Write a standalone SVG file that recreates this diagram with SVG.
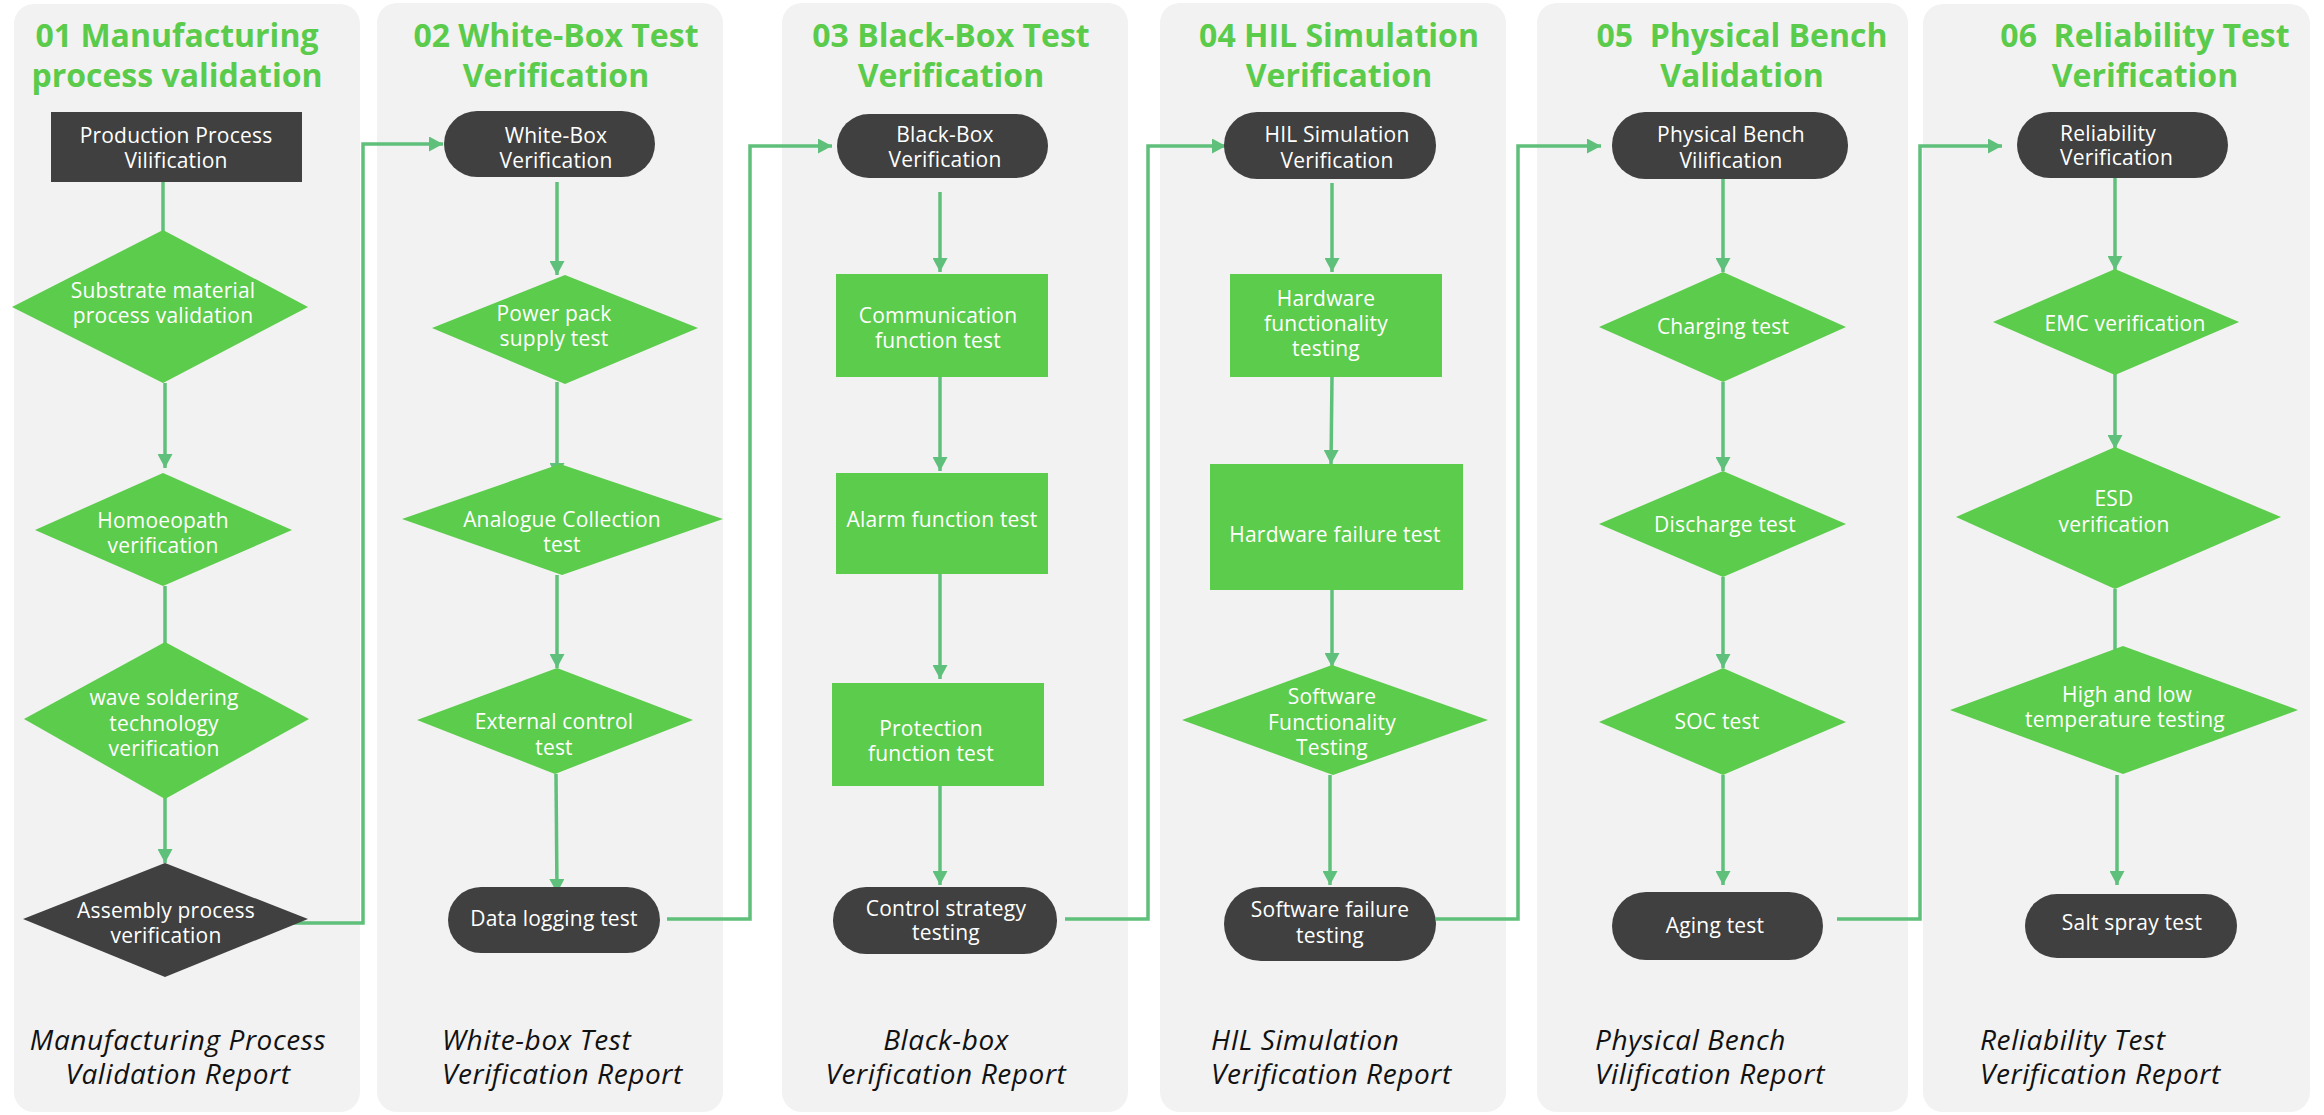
<svg xmlns="http://www.w3.org/2000/svg" width="2324" height="1115" viewBox="0 0 2324 1115">
<defs>
<style>
.panel{fill:#f2f2f2}
.title{font-family:"Open Sans","Noto Sans",sans-serif;font-weight:bold;font-size:32px;fill:#5bcb4b;text-anchor:middle}
.dark{fill:#404040}
.green{fill:#5bcc4b}
.nt{font-family:"Open Sans","Noto Sans",sans-serif;font-size:21px;letter-spacing:0.2px;fill:#ffffff;text-anchor:middle}
.ns{font-family:"Open Sans","Noto Sans",sans-serif;font-size:21px;letter-spacing:0.2px;fill:#ffffff;text-anchor:start}
.foot{font-family:"Open Sans","Noto Sans",sans-serif;font-style:italic;font-size:28px;letter-spacing:0.6px;fill:#111111}
.fm{text-anchor:middle}
.conn{fill:none;stroke:#5fc07b;stroke-width:3.5}
</style>
<marker id="arr" viewBox="0 0 14 15" refX="14" refY="7.5" markerWidth="14" markerHeight="15" markerUnits="userSpaceOnUse" orient="auto">
<path d="M0,0 L14,7.5 L0,15 z" fill="#5fc07b"/>
</marker>
</defs>

<g id="panels">
<rect class="panel" x="14" y="4" width="346" height="1108" rx="20"/>
<rect class="panel" x="377" y="3" width="346" height="1109" rx="20"/>
<rect class="panel" x="782" y="3" width="346" height="1109" rx="20"/>
<rect class="panel" x="1160" y="3" width="346" height="1109" rx="20"/>
<rect class="panel" x="1537" y="3" width="371" height="1109" rx="20"/>
<rect class="panel" x="1923" y="4" width="387" height="1108" rx="20"/>
</g>

<g id="titles">
<text class="title" x="177" y="47">01 Manufacturing</text>
<text class="title" x="177" y="87">process validation</text>
<text class="title" x="556" y="47">02 White-Box Test</text>
<text class="title" x="556" y="87">Verification</text>
<text class="title" x="951" y="47">03 Black-Box Test</text>
<text class="title" x="951" y="87">Verification</text>
<text class="title" x="1339" y="47">04 HIL Simulation</text>
<text class="title" x="1339" y="87">Verification</text>
<text class="title" x="1742" y="47" xml:space="preserve">05  Physical Bench</text>
<text class="title" x="1742" y="87">Validation</text>
<text class="title" x="2145" y="47" xml:space="preserve">06  Reliability Test</text>
<text class="title" x="2145" y="87">Verification</text>
</g>

<g id="connectors">
<line class="conn" x1="163" y1="182" x2="163" y2="277" marker-end="url(#arr)"/>
<line class="conn" x1="165" y1="383" x2="165" y2="468" marker-end="url(#arr)"/>
<line class="conn" x1="165" y1="586" x2="165" y2="664" marker-end="url(#arr)"/>
<line class="conn" x1="165" y1="774" x2="165" y2="863" marker-end="url(#arr)"/>
<polyline class="conn" points="283,923 363,923 363,144 443,144" marker-end="url(#arr)"/>

<line class="conn" x1="557" y1="182" x2="557" y2="275" marker-end="url(#arr)"/>
<line class="conn" x1="557" y1="382" x2="557" y2="477" marker-end="url(#arr)"/>
<line class="conn" x1="557" y1="575" x2="557" y2="668" marker-end="url(#arr)"/>
<line class="conn" x1="556" y1="774" x2="557" y2="893" marker-end="url(#arr)"/>
<polyline class="conn" points="667,919 750,919 750,146 832,146" marker-end="url(#arr)"/>

<line class="conn" x1="940" y1="192" x2="940" y2="272" marker-end="url(#arr)"/>
<line class="conn" x1="940" y1="377" x2="940" y2="471" marker-end="url(#arr)"/>
<line class="conn" x1="940" y1="569" x2="940" y2="679" marker-end="url(#arr)"/>
<line class="conn" x1="940" y1="775" x2="940" y2="885" marker-end="url(#arr)"/>
<polyline class="conn" points="1065,919 1148,919 1148,146 1226,146" marker-end="url(#arr)"/>

<line class="conn" x1="1332" y1="183" x2="1332" y2="272" marker-end="url(#arr)"/>
<line class="conn" x1="1332" y1="377" x2="1331" y2="464" marker-end="url(#arr)"/>
<line class="conn" x1="1332" y1="590" x2="1332" y2="667" marker-end="url(#arr)"/>
<line class="conn" x1="1330" y1="775" x2="1330" y2="885" marker-end="url(#arr)"/>
<polyline class="conn" points="1436,919 1518,919 1518,146 1601,146" marker-end="url(#arr)"/>

<line class="conn" x1="1723" y1="179" x2="1723" y2="272" marker-end="url(#arr)"/>
<line class="conn" x1="1723" y1="382" x2="1723" y2="471" marker-end="url(#arr)"/>
<line class="conn" x1="1723" y1="577" x2="1723" y2="668" marker-end="url(#arr)"/>
<line class="conn" x1="1723" y1="775" x2="1723" y2="885" marker-end="url(#arr)"/>
<polyline class="conn" points="1837,919 1920,919 1920,146 2002,146" marker-end="url(#arr)"/>

<line class="conn" x1="2115" y1="178" x2="2115" y2="270" marker-end="url(#arr)"/>
<line class="conn" x1="2115" y1="363" x2="2115" y2="449" marker-end="url(#arr)"/>
<line class="conn" x1="2115" y1="589" x2="2115" y2="674" marker-end="url(#arr)"/>
<line class="conn" x1="2117" y1="775" x2="2117" y2="885" marker-end="url(#arr)"/>
</g>

<!-- Panel 1 -->
<g id="n1-production">
<rect class="dark" x="51" y="112" width="251" height="70"/>
<text class="nt" x="176" y="143">Production Process</text>
<text class="nt" x="176" y="168">Vilification</text>
</g>
<g id="n1-substrate">
<polygon class="green" points="163,230 308,307 163,383 12,307"/>
<text class="nt" x="163" y="298">Substrate material</text>
<text class="nt" x="163" y="323">process validation</text>
</g>
<g id="n1-homoeopath">
<polygon class="green" points="163,473 292,530 163,586 35,530"/>
<text class="nt" x="163" y="528">Homoeopath</text>
<text class="nt" x="163" y="553">verification</text>
</g>
<g id="n1-wave">
<polygon class="green" points="165,642 309,719 165,799 24,719"/>
<text class="nt" x="164" y="705">wave soldering</text>
<text class="nt" x="164" y="731">technology</text>
<text class="nt" x="164" y="756">verification</text>
</g>
<g id="n1-assembly">
<polygon class="dark" points="165,863 308,919 165,977 23,919"/>
<text class="nt" x="166" y="918">Assembly process</text>
<text class="nt" x="166" y="943">verification</text>
</g>

<!-- Panel 2 -->
<g id="n2-whitebox">
<rect class="dark" x="444" y="111" width="211" height="66" rx="33"/>
<text class="nt" x="556" y="143">White-Box</text>
<text class="nt" x="556" y="168">Verification</text>
</g>
<g id="n2-power">
<polygon class="green" points="565,275 698,328 565,384 432,328"/>
<text class="nt" x="554" y="321">Power pack</text>
<text class="nt" x="554" y="346">supply test</text>
</g>
<g id="n2-analogue">
<polygon class="green" points="560,464 723,519 562,575 402,519"/>
<text class="nt" x="562" y="527">Analogue Collection</text>
<text class="nt" x="562" y="552">test</text>
</g>
<g id="n2-external">
<polygon class="green" points="557,668 693,720 555,774 417,720"/>
<text class="nt" x="554" y="729">External control</text>
<text class="nt" x="554" y="755">test</text>
</g>
<g id="n2-datalog">
<rect class="dark" x="448" y="887" width="212" height="66" rx="33"/>
<text class="nt" x="554" y="926">Data logging test</text>
</g>

<!-- Panel 3 -->
<g id="n3-blackbox">
<rect class="dark" x="837" y="114" width="211" height="64" rx="32"/>
<text class="nt" x="945" y="142">Black-Box</text>
<text class="nt" x="945" y="167">Verification</text>
</g>
<g id="n3-comm">
<rect class="green" x="836" y="274" width="212" height="103"/>
<text class="nt" x="938" y="323">Communication</text>
<text class="nt" x="938" y="348">function test</text>
</g>
<g id="n3-alarm">
<rect class="green" x="836" y="473" width="212" height="101"/>
<text class="nt" x="942" y="527">Alarm function test</text>
</g>
<g id="n3-protection">
<rect class="green" x="832" y="683" width="212" height="103"/>
<text class="nt" x="931" y="736">Protection</text>
<text class="nt" x="931" y="761">function test</text>
</g>
<g id="n3-control">
<rect class="dark" x="833" y="887" width="224" height="67" rx="33"/>
<text class="nt" x="946" y="916">Control strategy</text>
<text class="nt" x="946" y="940">testing</text>
</g>

<!-- Panel 4 -->
<g id="n4-hil">
<rect class="dark" x="1224" y="112" width="212" height="67" rx="33"/>
<text class="nt" x="1337" y="142">HIL Simulation</text>
<text class="nt" x="1337" y="168">Verification</text>
</g>
<g id="n4-hwfunc">
<rect class="green" x="1230" y="274" width="212" height="103"/>
<text class="nt" x="1326" y="306">Hardware</text>
<text class="nt" x="1326" y="331">functionality</text>
<text class="nt" x="1326" y="356">testing</text>
</g>
<g id="n4-hwfail">
<rect class="green" x="1210" y="464" width="253" height="126"/>
<text class="nt" x="1335" y="542">Hardware failure test</text>
</g>
<g id="n4-swfunc">
<polygon class="green" points="1332,665 1488,720 1333,775 1182,720"/>
<text class="nt" x="1332" y="704">Software</text>
<text class="nt" x="1332" y="730">Functionality</text>
<text class="nt" x="1332" y="755">Testing</text>
</g>
<g id="n4-swfail">
<rect class="dark" x="1224" y="887" width="212" height="74" rx="37"/>
<text class="nt" x="1330" y="917">Software failure</text>
<text class="nt" x="1330" y="943">testing</text>
</g>

<!-- Panel 5 -->
<g id="n5-bench">
<rect class="dark" x="1612" y="112" width="236" height="67" rx="33"/>
<text class="nt" x="1731" y="142">Physical Bench</text>
<text class="nt" x="1731" y="168">Vilification</text>
</g>
<g id="n5-charging">
<polygon class="green" points="1723,272 1846,327 1723,382 1599,327"/>
<text class="nt" x="1723" y="334">Charging test</text>
</g>
<g id="n5-discharge">
<polygon class="green" points="1723,471 1846,524 1723,577 1599,524"/>
<text class="nt" x="1725" y="532">Discharge test</text>
</g>
<g id="n5-soc">
<polygon class="green" points="1723,668 1846,722 1723,775 1599,722"/>
<text class="nt" x="1717" y="729">SOC test</text>
</g>
<g id="n5-aging">
<rect class="dark" x="1612" y="892" width="211" height="68" rx="34"/>
<text class="nt" x="1715" y="933">Aging test</text>
</g>

<!-- Panel 6 -->
<g id="n6-reliability">
<rect class="dark" x="2017" y="112" width="211" height="66" rx="33"/>
<text class="ns" x="2060" y="141">Reliability</text>
<text class="ns" x="2060" y="165">Verification</text>
</g>
<g id="n6-emc">
<polygon class="green" points="2115,269 2239,322 2115,375 1993,322"/>
<text class="nt" x="2125" y="331">EMC verification</text>
</g>
<g id="n6-esd">
<polygon class="green" points="2115,447 2281,517 2115,589 1956,517"/>
<text class="nt" x="2114" y="506">ESD</text>
<text class="nt" x="2114" y="532">verification</text>
</g>
<g id="n6-temp">
<polygon class="green" points="2123,646 2298,710 2123,774 1950,710"/>
<text class="nt" x="2127" y="702">High and low</text>
<text class="nt" x="2125" y="727">temperature testing</text>
</g>
<g id="n6-salt">
<rect class="dark" x="2025" y="894" width="212" height="64" rx="32"/>
<text class="nt" x="2132" y="930">Salt spray test</text>
</g>

<g id="footers">
<text class="foot fm" x="178" y="1050">Manufacturing Process</text>
<text class="foot fm" x="178" y="1084">Validation Report</text>
<text class="foot" x="442" y="1050">White-box Test</text>
<text class="foot" x="442" y="1084">Verification Report</text>
<text class="foot fm" x="946" y="1050">Black-box</text>
<text class="foot fm" x="946" y="1084">Verification Report</text>
<text class="foot" x="1211" y="1050">HIL Simulation</text>
<text class="foot" x="1211" y="1084">Verification Report</text>
<text class="foot" x="1595" y="1050">Physical Bench</text>
<text class="foot" x="1595" y="1084">Vilification Report</text>
<text class="foot" x="1980" y="1050">Reliability Test</text>
<text class="foot" x="1980" y="1084">Verification Report</text>
</g>
</svg>
